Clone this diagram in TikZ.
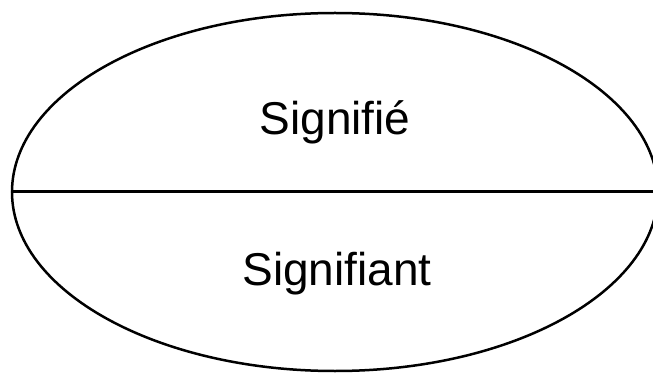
\documentclass[tikz,border=0pt]{standalone}
\usepackage{fontspec}
\setmainfont{Liberation Sans}
\usetikzlibrary{shapes.geometric}
\begin{document}
\begin{tikzpicture}[x=1pt,y=-1pt,font=\fontsize{46}{50}\selectfont]
			\useasboundingbox (0,0) rectangle (653,374);
			\clip (0,0) rectangle (653,374);
			\node[draw,ellipse,line width=2.5pt,minimum width=646pt,minimum height=358pt,inner sep=0pt] (signe) at (335,192) {};
			\draw[line width=3pt] (signe.west)--(signe.east);
			\node[anchor=base] (signifie) at (335,135) {Signifié};
			\node[anchor=base] (signifiant) at (337,285) {Signifiant};\end{tikzpicture}
\end{document}
